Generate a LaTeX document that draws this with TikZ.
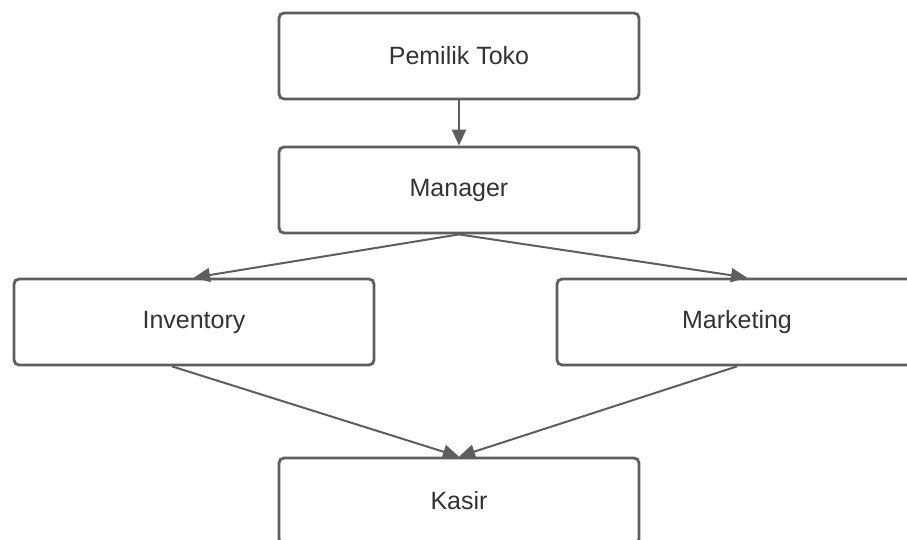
\documentclass[tikz,border=0pt]{standalone}
\usepackage{fontspec}
\setmainfont{Liberation Sans}
\usetikzlibrary{arrows.meta,positioning}

\definecolor{linegray}{HTML}{5E5E5E}
\definecolor{textgray}{HTML}{333333}

\tikzset{
  box/.style={draw=linegray,line width=2.8pt,rounded corners=5pt,fill=white,
    minimum width=360pt,minimum height=86pt,text=textgray,
    font=\fontsize{25pt}{30pt}\selectfont}
}

\begin{document}
\begin{tikzpicture}[%
       >={Triangle[length=16pt,width=14pt]},
       node distance=134pt,
       every edge/.style={draw=linegray,line width=2pt},
       on grid
     ]
     \useasboundingbox (-459pt,56pt) rectangle (448pt,-484pt);

     \node[box]		(0)       						{Pemilik Toko};
     \node[box] 	(1) [below=of 0]					{Manager};
     \node[box]		(2) [below left=132pt and 265pt of 1]	{Inventory};
     \node[box] 	(3) [below right=132pt and 278pt of 1]	{Marketing};
     \node[box]		(4) [below=311pt of 1]				{Kasir};

     \path[->] (0.south) edge (1.north);
     \path[->] (1.south) edge (2.north);
     \path[->] (1.south) edge ([xshift=10pt]3.north);
     \path[->] ([xshift=-22pt]2.south) edge (4.north);
     \path[->] (3.south) edge (4.north);
\end{tikzpicture}
\end{document}
